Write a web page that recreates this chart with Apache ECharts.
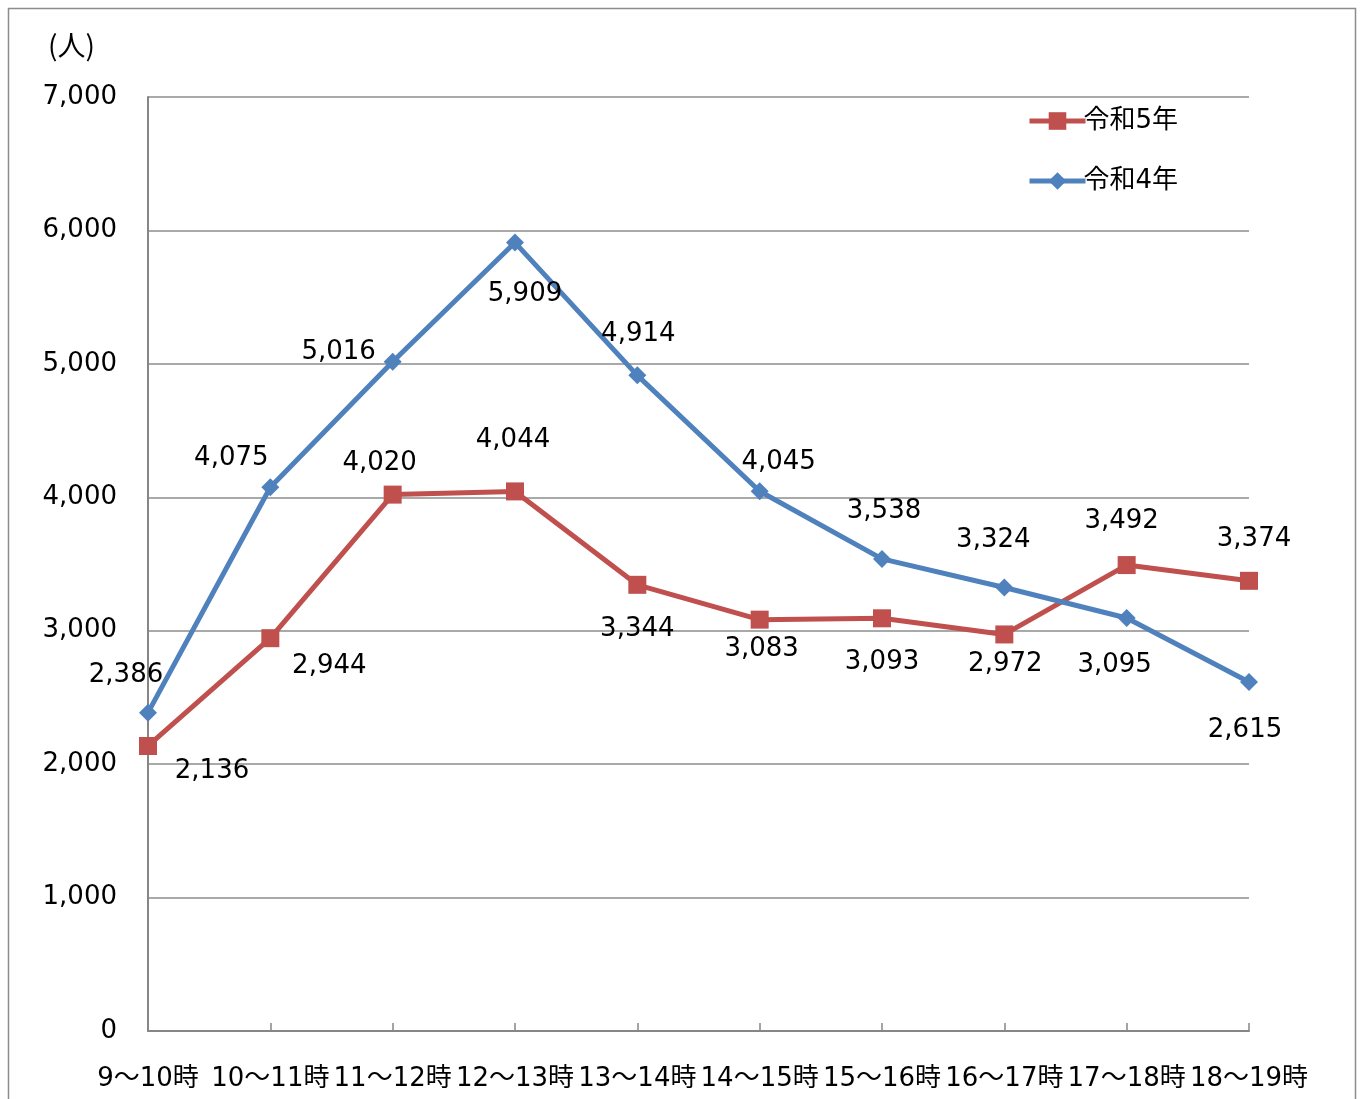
<!DOCTYPE html>
<html>
<head>
<meta charset="utf-8">
<script src="https://cdn.jsdelivr.net/npm/echarts@6/dist/echarts.min.js"></script>
<style>
html,body{margin:0;padding:0;background:#fff;}
#chart_line{width:1364px;height:1099px;}
</style>
</head>
<body>
<div id="chart_line"></div>
<script>
var hours = ['9～10時', '10～11時', '11～12時', '12～13時', '13～14時', '14～15時', '15～16時', '16～17時', '17～18時', '18～19時'];
var r5 = [2136, 2944, 4020, 4044, 3344, 3083, 3093, 2972, 3492, 3374];
var r4 = [2386, 4075, 5016, 5909, 4914, 4045, 3538, 3324, 3095, 2615];
var yTicks = [0, 1000, 2000, 3000, 4000, 5000, 6000, 7000];

// ラベル位置（点からのずれ）
var r5Off = [[64, 25], [59, 28], [-13, -31], [-2, -51], [0, 44], [2, 30], [0, 44], [1, 30], [-5, -44], [5, -42]];
var r4Off = [[-22, -37], [-39, -29], [-54, -9], [10, 52], [1, -41], [19, -29], [2, -48], [-11, -47], [-12, 47], [-4, 48]];

var font = "'DejaVu Sans', 'Noto Sans CJK JP', sans-serif";

function withLabels(vals, offs){
    return vals.map(function(v, i){
        return { value: v, label: { offset: offs[i] } };
    });
}

var myChart = echarts.init(document.getElementById('chart_line'));
var option = {
    animation: false,
    backgroundColor: '#fff',
    textStyle: { fontFamily: font },
    graphic: [
        {
            type: 'rect',
            shape: { x: 8.5, y: 8.5, width: 1347, height: 1110 },
            style: { fill: 'none', stroke: '#8c8c8c', lineWidth: 1.5 }
        },
        {
            type: 'text',
            left: 48, top: 31,
            style: { text: '(人)', fontSize: 28, fill: '#000', fontFamily: "'Noto Sans CJK JP', sans-serif" }
        }
    ],
    legend: {
        orient: 'vertical',
        left: 1027,
        top: 108,
        padding: 0,
        itemWidth: 56,
        itemHeight: 22,
        itemGap: 34,
        data: ['令和5年', '令和4年'],
        lineStyle: { width: 5 },
        textStyle: { fontSize: 26, color: '#000', fontFamily: font, padding: [0, 0, 0, -7] }
    },
    grid: {
        left: 148,
        right: 115,
        top: 97,
        bottom: 68,
        containLabel: false
    },
    xAxis: {
        type: 'category',
        boundaryGap: false,
        data: hours,
        axisLine: { lineStyle: { color: '#868686', width: 2 } },
        axisTick: { inside: true, length: 8, lineStyle: { color: '#868686', width: 1.5 } },
        axisLabel: { interval: 0, fontSize: 26, color: '#000', margin: 35, fontFamily: font }
    },
    yAxis: {
        type: 'value',
        min: yTicks[0],
        max: yTicks[yTicks.length - 1],
        interval: 1000,
        axisLine: { show: true, lineStyle: { color: '#868686', width: 2 } },
        axisTick: { show: false },
        splitLine: { lineStyle: { color: '#8c8c8c', width: 1.5 } },
        axisLabel: {
            fontSize: 26, color: '#000', margin: 31, fontFamily: font,
            formatter: function(v){ return v.toLocaleString('en-US'); }
        }
    },
    series: [
        {
            name: '令和5年',
            type: 'line',
            data: withLabels(r5, r5Off),
            symbol: 'rect',
            symbolSize: 18,
            color: '#C0504D',
            lineStyle: { color: '#C0504D', width: 5 },
            itemStyle: { color: '#C0504D' },
            label: {
                show: true, position: 'inside', fontSize: 26, color: '#000', fontFamily: font,
                formatter: function(p){ return p.value.toLocaleString('en-US'); }
            },
            z: 3
        },
        {
            name: '令和4年',
            type: 'line',
            data: withLabels(r4, r4Off),
            symbol: 'diamond',
            symbolSize: 18,
            color: '#4F81BD',
            lineStyle: { color: '#4F81BD', width: 5 },
            itemStyle: { color: '#4F81BD' },
            label: {
                show: true, position: 'inside', fontSize: 26, color: '#000', fontFamily: font,
                formatter: function(p){ return p.value.toLocaleString('en-US'); }
            },
            z: 4
        }
    ]
};
myChart.setOption(option);
</script>
</body>
</html>
